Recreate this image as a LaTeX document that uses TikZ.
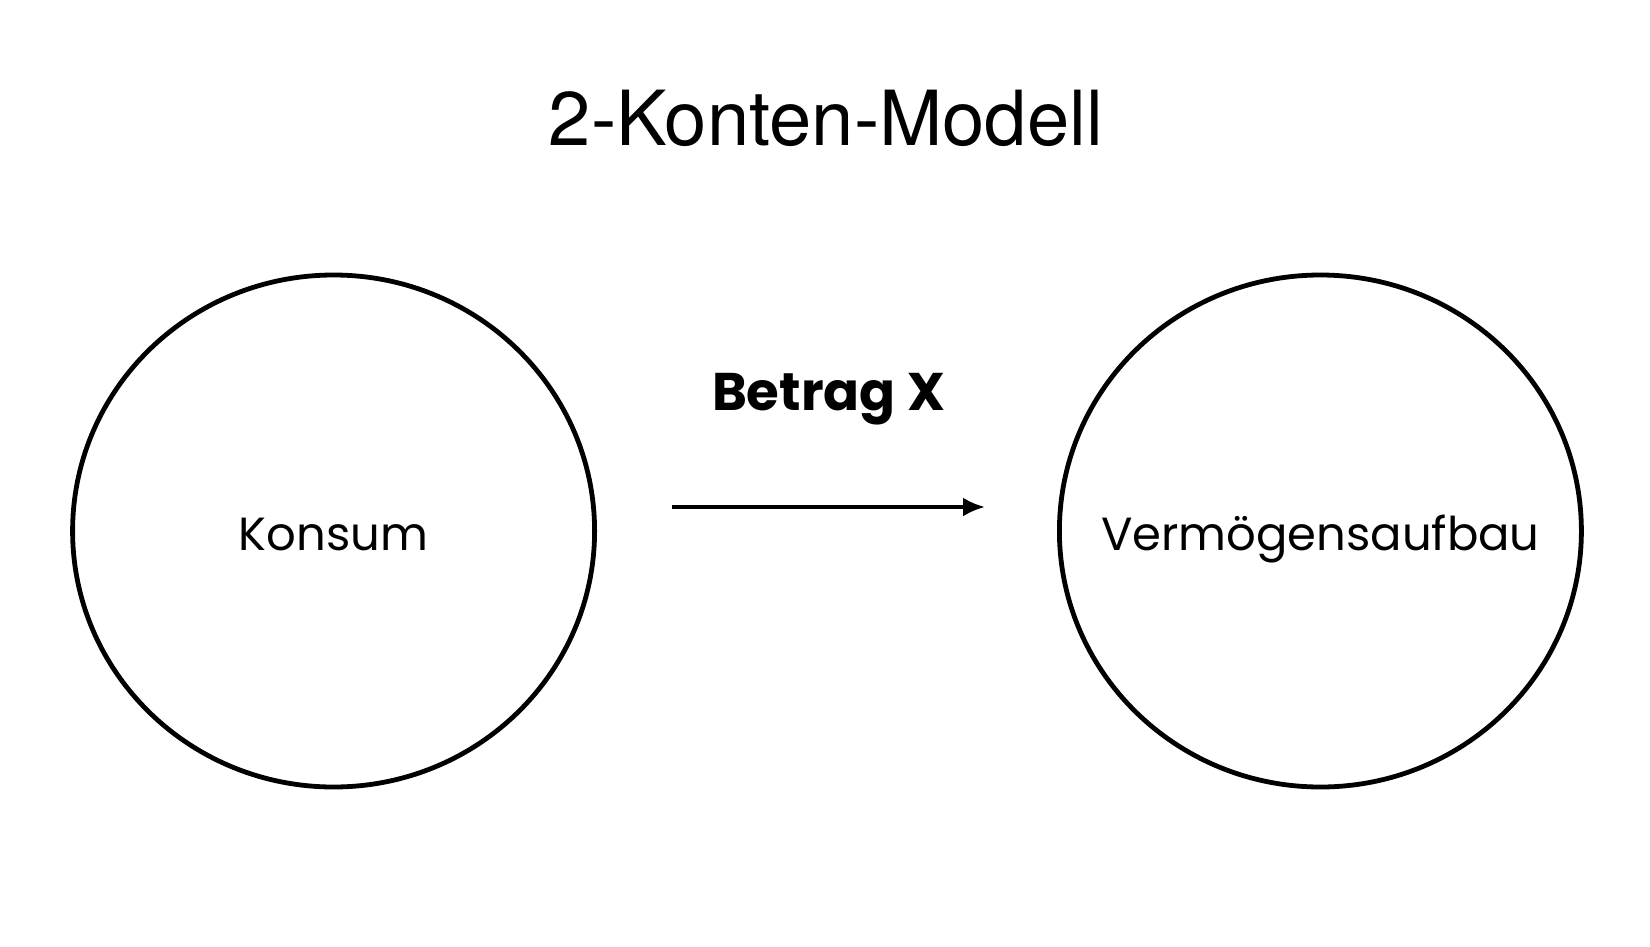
\documentclass[tikz,border=0pt]{standalone}
\usepackage{fontspec}
\setmainfont{Poppins}
\newfontfamily\titlefont{TeX Gyre Heros}
\usetikzlibrary{positioning}
\usetikzlibrary{arrows.meta}
\usetikzlibrary{shapes.geometric}

\tikzset{
  konto/.style={draw, ellipse, line width=4.8pt, minimum width=522pt, minimum height=512pt, inner sep=0pt},
  kontoname/.style={anchor=base, inner sep=0pt, font=\fontsize{46.5}{50}\selectfont},
  betrag/.style={font=\fontsize{53}{56}\selectfont\bfseries, inner sep=0pt}
}

\begin{document}
\begin{tikzpicture}[x=1pt,y=-1pt]
\useasboundingbox (0,0) rectangle (1650,946);
\node[anchor=base, inner sep=0pt, font=\titlefont\fontsize{76}{80}\selectfont](titel) at (826,145){2-Konten-Modell};
\node[konto](konsum) at (333.6,531){};
\node[konto, right = 460pt of konsum](vermoegen){};
\node[kontoname](konsumtext) at ([yshift=-19pt]konsum.center){Konsum};
\node[kontoname](vermoegentext) at ([yshift=-19pt]vermoegen.center){Vermögensaufbau};
\draw[line width=3.8pt, -{Latex[length=22pt,width=19pt]}] ([xshift=75pt,yshift=24pt]konsum.east) -- ([xshift=-72pt,yshift=24pt]vermoegen.west) coordinate[midway](mitte);
\node[betrag, anchor=base](betragx) at ([yshift=97pt]mitte){Betrag X};
\end{tikzpicture}
\end{document}
